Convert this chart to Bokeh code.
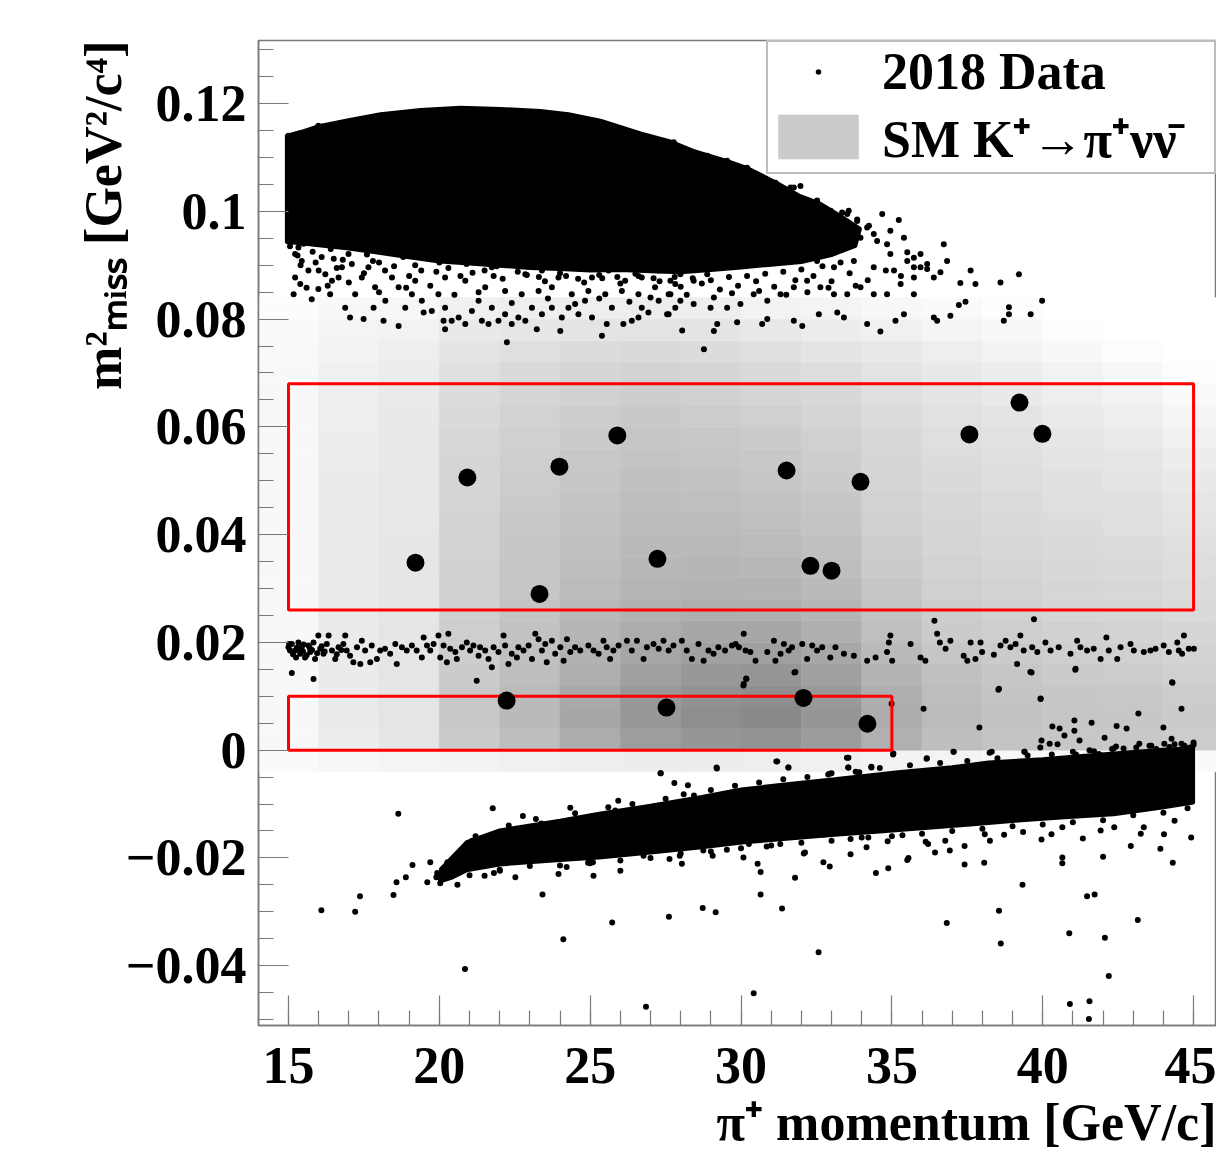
from bokeh.plotting import figure
from bokeh.models import FixedTicker, Legend, LegendItem, ColumnDataSource, LinearColorMapper, Title
from bokeh.embed import file_html
from bokeh.resources import INLINE

# ------------------------------------------------------------------ data
# SM K+ -> pi+ nu nubar expectation (2D histogram, relative density per bin)
sm_p_edges = [14, 16, 18, 20, 22, 24, 26, 28, 30, 32, 34, 36, 38, 40, 42, 44, 46]
sm_m2_edges = [-0.004, 0.0, 0.004, 0.008, 0.012, 0.016, 0.020, 0.024, 0.028, 0.032, 0.036,
               0.040, 0.044, 0.048, 0.052, 0.056, 0.060, 0.064, 0.068, 0.072, 0.076, 0.080, 0.084]
# one list per momentum bin, m2 bins from bottom to top
sm_density = [
    [4, 6, 6, 6, 6, 6, 6, 6, 6, 6, 6, 6, 6, 6, 6, 6, 6, 6, 6, 5, 4, 3],
    [7, 15, 16, 16, 16, 16, 16, 16, 16, 16, 16, 16, 16, 16, 15, 15, 14, 14, 12, 10, 9, 6],
    [8, 20, 21, 21, 21, 21, 21, 20, 20, 20, 20, 19, 19, 19, 19, 19, 18, 17, 15, 14, 10, 7],
    [10, 42, 44, 43, 42, 40, 39, 38, 38, 37, 36, 35, 34, 34, 33, 32, 30, 28, 26, 22, 18, 12],
    [12, 52, 55, 54, 52, 50, 49, 47, 46, 46, 45, 44, 42, 41, 39, 38, 36, 34, 30, 26, 20, 14],
    [14, 66, 70, 69, 65, 62, 58, 56, 54, 52, 50, 49, 47, 46, 44, 42, 40, 37, 33, 28, 22, 14],
    [15, 78, 82, 81, 76, 71, 66, 62, 59, 57, 55, 54, 52, 50, 48, 46, 43, 40, 35, 30, 23, 15],
    [15, 84, 90, 87, 82, 76, 70, 65, 61, 58, 56, 54, 51, 49, 46, 44, 41, 38, 34, 28, 22, 14],
    [14, 86, 94, 90, 84, 76, 70, 64, 60, 57, 54, 51, 49, 46, 44, 42, 38, 34, 30, 25, 18, 10],
    [12, 79, 84, 81, 76, 70, 64, 59, 55, 52, 50, 47, 45, 42, 40, 38, 34, 31, 27, 22, 15, 9],
    [10, 63, 66, 65, 60, 55, 51, 48, 45, 42, 40, 38, 36, 34, 33, 31, 29, 26, 23, 18, 12, 6],
    [9, 52, 54, 53, 50, 46, 42, 40, 38, 36, 34, 33, 31, 30, 28, 26, 24, 22, 18, 14, 8, 4],
    [7, 47, 49, 47, 45, 42, 39, 37, 35, 34, 32, 30, 29, 27, 26, 24, 22, 18, 15, 10, 6, 2],
    [6, 45, 46, 45, 42, 39, 37, 34, 33, 31, 30, 28, 26, 25, 22, 20, 17, 14, 10, 6, 2, 0],
    [6, 44, 45, 44, 41, 38, 35, 33, 31, 30, 28, 26, 25, 22, 20, 17, 14, 10, 6, 2, 0, 0],
    [4, 41, 42, 41, 38, 35, 33, 30, 29, 27, 26, 23, 21, 18, 15, 12, 8, 4, 2, 0, 0, 0],
]

# signal regions (momentum range, m2 range)
region_p_lo = [15, 15]
region_p_hi = [35, 45]
region_m2_lo = [0.0, 0.026]
region_m2_hi = [0.010, 0.068]

# 2018 candidate events
cand_p = [19.21, 20.93, 23.32, 23.98, 25.90, 27.23, 31.51, 32.30, 33.00, 33.96, 37.57, 39.23,
          39.99, 22.23, 27.53, 32.07, 34.19]
cand_m2 = [0.0348, 0.0506, 0.0290, 0.0526, 0.0584, 0.0355, 0.0519, 0.0342, 0.0333, 0.0498,
           0.0586, 0.0645, 0.0587, 0.0092, 0.0079, 0.0097, 0.0049]

# dense core of the upper population, outline
upper_core_p = [14.93, 15.40, 16.0, 16.99, 18.05, 19.38, 20.70, 22.03, 23.35, 24.28, 25.34,
                26.70, 27.69, 28.42, 29.55, 30.21, 31.21, 31.97, 32.63, 33.30, 33.96,
                33.80, 33.0, 32.0, 31.0, 30.0, 29.0, 28.0, 27.0, 26.0, 25.0, 24.0, 23.0,
                22.0, 21.0, 20.0, 19.0, 18.0, 17.0, 16.0, 15.4, 14.93]
upper_core_m2 = [0.1141, 0.1148, 0.1159, 0.1170, 0.1181, 0.1189, 0.1193, 0.1191, 0.1187, 0.1181,
                 0.1169, 0.1145, 0.1130, 0.1113, 0.1094, 0.1081, 0.1053, 0.1029, 0.1015, 0.0992,
                 0.0968, 0.0935, 0.0918, 0.0905, 0.0900, 0.0895, 0.0890, 0.0886, 0.0888,
                 0.0890, 0.0889, 0.0892, 0.0894, 0.0898, 0.0902, 0.0906, 0.0914, 0.0922,
                 0.0930, 0.0936, 0.0940, 0.0942]

# dense core of the lower population, outline
lower_core_p = [20.04, 20.90, 22.0, 24.0, 25.3, 27.0, 28.7, 30.0, 31.6, 33.1, 35.2, 37.0, 38.2,
                40.0, 41.3, 42.9, 43.9, 45.0,
                45.0, 43.9, 42.35, 40.6, 39.3, 37.6, 36.2, 34.6, 33.1, 31.6, 30.1, 28.7, 27.0,
                25.3, 24.0, 22.0, 20.9, 20.4, 20.0]
lower_core_m2 = [-0.0220, -0.0170, -0.0148, -0.0130, -0.0117, -0.0102, -0.0086, -0.0072, -0.0062,
                 -0.0053, -0.0040, -0.0031, -0.0022, -0.0016, -0.0010, -0.0003, 0.0001, 0.0005,
                 -0.0098, -0.0108, -0.0120, -0.0126, -0.0131, -0.0139, -0.0145, -0.0152, -0.0158,
                 -0.0165, -0.0172, -0.0181, -0.0191, -0.0200, -0.0205, -0.0213, -0.0224, -0.0238,
                 -0.0245]

# individual events around the upper population
upper_points = [
    (15.11, 0.0945), (15.33, 0.0933), (15.22, 0.0921), (15.44, 0.0908), (15.66, 0.0890),
    (15.22, 0.0877), (15.39, 0.0865), (15.17, 0.0846), (15.77, 0.0837), (15.99, 0.0856),
    (16.22, 0.0883), (16.44, 0.0871), (16.38, 0.0846), (16.66, 0.0877), (16.77, 0.0896),
    (16.99, 0.0921), (16.88, 0.0821), (17.04, 0.0803), (17.49, 0.0800), (17.21, 0.0846),
    (17.43, 0.0877), (17.65, 0.0896), (17.87, 0.0859), (17.82, 0.0821), (18.15, 0.0797),
    (18.21, 0.0834), (18.43, 0.0877), (18.65, 0.0859), (18.65, 0.0787), (18.87, 0.0821),
    (19.09, 0.0846), (19.20, 0.0871), (19.42, 0.0834), (19.48, 0.0812), (19.75, 0.0815),
    (19.97, 0.0846), (20.19, 0.0781), (20.14, 0.0797), (20.19, 0.0821), (20.41, 0.0797),
    (20.64, 0.0803), (20.86, 0.0791), (21.08, 0.0815), (21.30, 0.0834), (21.41, 0.0797),
    (21.63, 0.0791), (21.74, 0.0821), (21.96, 0.0797), (22.24, 0.0757), (22.18, 0.0809),
    (22.40, 0.0791), (22.62, 0.0803), (22.85, 0.0797), (23.07, 0.0821), (23.23, 0.0781),
    (23.40, 0.0809), (23.73, 0.0821), (24.01, 0.0778), (24.06, 0.0803), (24.28, 0.0821),
    (24.61, 0.0809), (24.83, 0.0834), (25.06, 0.0803), (25.39, 0.0769), (25.55, 0.0791),
    (25.72, 0.0821), (26.10, 0.0791), (26.38, 0.0797), (26.60, 0.0803), (26.71, 0.0821),
    (26.93, 0.0812), (27.27, 0.0834), (27.60, 0.0809), (27.82, 0.0821),
    (20.64, 0.0921), (21.19, 0.0908), (21.74, 0.0896), (22.29, 0.0902), (22.85, 0.0883),
    (23.40, 0.0890), (23.95, 0.0877), (24.50, 0.0902), (25.06, 0.0877), (25.61, 0.0890),
    (26.16, 0.0871), (26.71, 0.0877), (27.27, 0.0890), (27.82, 0.0865), (20.19, 0.0877),
    (20.86, 0.0871), (21.52, 0.0859), (22.18, 0.0852), (22.73, 0.0846), (23.29, 0.0852),
    (23.73, 0.0859), (24.39, 0.0846), (24.94, 0.0852), (25.50, 0.0846), (26.05, 0.0852),
    (26.60, 0.0846), (27.15, 0.0859), (27.60, 0.0846),
    (15.05, 0.0935), (15.25, 0.0950), (15.50, 0.0940), (15.80, 0.0925), (16.10, 0.0915),
    (16.40, 0.0930), (16.80, 0.0910), (17.20, 0.0935), (17.60, 0.0920), (18.00, 0.0905),
    (18.40, 0.0930), (18.80, 0.0915), (19.20, 0.0900), (19.60, 0.0915), (20.00, 0.0905),
    (20.40, 0.0918), (20.90, 0.0902), (21.30, 0.0912), (21.90, 0.0898), (22.50, 0.0910),
    (23.10, 0.0900), (23.70, 0.0908), (24.40, 0.0895), (25.00, 0.0905), (25.70, 0.0898),
    (26.30, 0.0903), (27.00, 0.0893), (27.50, 0.0898), (15.40, 0.0900), (16.00, 0.0890),
    (16.60, 0.0895), (17.50, 0.0885), (18.20, 0.0890), (19.00, 0.0880), (19.90, 0.0888),
    (20.70, 0.0880), (21.50, 0.0890), (22.10, 0.0875), (22.90, 0.0882), (23.50, 0.0870),
    (24.20, 0.0880), (24.80, 0.0868), (25.40, 0.0876), (26.00, 0.0866), (26.60, 0.0880),
    (27.30, 0.0870), (28.00, 0.0860), (28.70, 0.0866), (29.30, 0.0855), (29.90, 0.0862),
    (30.50, 0.0870), (31.10, 0.0860), (31.80, 0.0872), (32.40, 0.0880), (33.00, 0.0870),
    (33.60, 0.0885), (34.20, 0.0872), (34.80, 0.0890), (35.30, 0.0880),
    (15.30, 0.0918), (15.90, 0.0905), (16.50, 0.0912), (17.10, 0.0902), (17.80, 0.0908),
    (18.50, 0.0898), (19.40, 0.0890), (20.30, 0.0895), (21.10, 0.0886), (21.80, 0.0880),
    (22.60, 0.0888), (23.30, 0.0878), (24.00, 0.0885), (24.60, 0.0875), (25.30, 0.0882),
    (25.90, 0.0878), (26.50, 0.0884), (27.10, 0.0876), (27.80, 0.0878), (28.40, 0.0876),
    (29.00, 0.0872), (29.60, 0.0878), (30.20, 0.0880), (30.80, 0.0884), (31.40, 0.0888),
    (32.00, 0.0892), (32.70, 0.0898), (33.30, 0.0905), (15.60, 0.0858), (16.30, 0.0862),
    (17.00, 0.0868), (18.00, 0.0850), (18.90, 0.0858), (19.70, 0.0862), (20.50, 0.0845),
    (21.30, 0.0850), (22.40, 0.0830), (23.60, 0.0838), (24.50, 0.0828), (25.30, 0.0838),
    (26.30, 0.0832), (27.00, 0.0840), (28.20, 0.0845), (29.10, 0.0840), (29.70, 0.0848),
    (30.60, 0.0852), (31.50, 0.0845), (32.20, 0.0850), (32.90, 0.0858), (33.80, 0.0862),
    (27.55, 0.0809), (28.05, 0.0779), (28.77, 0.0744), (29.10, 0.0778), (29.21, 0.0791),
    (29.87, 0.0794), (30.70, 0.0791), (30.87, 0.0800), (31.75, 0.0797), (32.03, 0.0787),
    (32.58, 0.0809), (33.19, 0.0812), (33.41, 0.0803), (34.18, 0.0791), (34.62, 0.0777),
    (35.12, 0.0797), (35.40, 0.0809), (35.73, 0.0846), (36.39, 0.0803), (36.50, 0.0797),
    (36.94, 0.0806), (37.22, 0.0826), (37.44, 0.0832), (37.27, 0.0867), (37.77, 0.0865),
    (37.61, 0.0890), (36.83, 0.0908), (36.72, 0.0939), (38.60, 0.0868), (39.21, 0.0883),
    (38.88, 0.0822), (38.88, 0.0809), (38.71, 0.0797), (39.60, 0.0809), (39.98, 0.0834),
    (34.68, 0.0995), (35.23, 0.0984), (35.40, 0.0951), (36.61, 0.0887), (35.95, 0.0921),
    (36.17, 0.0902), (35.73, 0.0877), (35.29, 0.0865), (34.84, 0.0846), (34.40, 0.0846),
    (33.96, 0.0859), (33.52, 0.0846), (33.08, 0.0846), (32.63, 0.0859), (32.19, 0.0871),
    (31.75, 0.0859), (31.31, 0.0846), (30.87, 0.0834), (30.42, 0.0846), (29.98, 0.0828),
    (29.54, 0.0821), (28.99, 0.0821), (28.43, 0.0828), (27.99, 0.0834), (27.66, 0.0846),
    (34.18, 0.0970), (33.85, 0.0982), (33.52, 0.0995), (33.30, 0.0964), (32.85, 0.0982),
    (32.41, 0.1007), (31.97, 0.1020), (31.53, 0.1032), (31.75, 0.1044), (33.96, 0.0951),
    (34.51, 0.0945), (34.95, 0.0921), (35.51, 0.0908), (35.07, 0.0890), (34.40, 0.0896),
    (33.74, 0.0908), (33.08, 0.0896), (32.52, 0.0908), (32.08, 0.0921), (31.53, 0.0933),
    (31.09, 0.0945), (30.65, 0.0933), (30.20, 0.0921), (29.76, 0.0908), (29.32, 0.0896),
    (28.88, 0.0883), (28.43, 0.0871), (27.99, 0.0883), (27.66, 0.0871),
    (27.77, 0.1128), (28.43, 0.1109), (28.88, 0.1103), (29.54, 0.1094), (30.20, 0.1081),
    (30.53, 0.1066), (31.14, 0.1053), (31.64, 0.1044), (31.97, 0.1047), (32.52, 0.1020),
    (32.97, 0.1001), (33.35, 0.0998), (33.57, 0.1001), (33.85, 0.0985), (34.24, 0.0973),
    (34.95, 0.0964), (34.40, 0.0958), (34.84, 0.0939), (35.51, 0.0924), (35.73, 0.0914),
    (35.95, 0.0896), (36.17, 0.0893), (36.39, 0.0877), (35.73, 0.0896), (15.99, 0.1159),
    (15.00, 0.1140),
]

# individual events of the K+ -> pi+ pi0 band
band_points = [
    (15.00, 0.0191), (15.11, 0.0197), (15.22, 0.0185), (15.33, 0.0200), (15.39, 0.0179),
    (15.44, 0.0191), (15.55, 0.0172), (15.66, 0.0194), (15.72, 0.0182), (15.83, 0.0200),
    (15.88, 0.0169), (15.99, 0.0213), (16.05, 0.0188), (16.16, 0.0179), (16.27, 0.0197),
    (16.33, 0.0213), (16.44, 0.0185), (16.55, 0.0169), (16.66, 0.0191), (16.82, 0.0197),
    (16.88, 0.0213), (16.93, 0.0185), (17.04, 0.0175), (17.15, 0.0163), (17.27, 0.0191),
    (17.38, 0.0160), (17.43, 0.0203), (17.54, 0.0185), (17.71, 0.0163), (17.76, 0.0194),
    (17.93, 0.0169), (18.04, 0.0185), (18.20, 0.0188), (18.37, 0.0179), (18.54, 0.0197),
    (18.59, 0.0160), (18.76, 0.0191), (18.92, 0.0185), (19.09, 0.0194), (19.25, 0.0185),
    (19.42, 0.0172), (19.48, 0.0209), (19.59, 0.0194), (19.70, 0.0185), (19.81, 0.0197),
    (19.97, 0.0213), (20.03, 0.0172), (20.14, 0.0194), (20.25, 0.0163), (20.30, 0.0216),
    (20.36, 0.0188), (20.53, 0.0182), (20.58, 0.0169), (20.75, 0.0191), (20.91, 0.0200),
    (21.02, 0.0185), (21.13, 0.0194), (21.24, 0.0129), (21.30, 0.0175), (21.35, 0.0191),
    (21.52, 0.0185), (21.63, 0.0169), (21.74, 0.0154), (21.80, 0.0191), (21.96, 0.0182),
    (22.13, 0.0213), (22.18, 0.0194), (22.29, 0.0160), (22.40, 0.0179), (22.57, 0.0172),
    (22.62, 0.0191), (22.79, 0.0185), (22.96, 0.0194), (23.07, 0.0169), (23.18, 0.0216),
    (23.29, 0.0206), (23.40, 0.0185), (23.51, 0.0197), (23.56, 0.0163), (23.73, 0.0203),
    (23.84, 0.0179), (24.01, 0.0191), (24.12, 0.0166), (24.23, 0.0206), (24.34, 0.0182),
    (24.50, 0.0191), (24.67, 0.0185), (24.94, 0.0194), (25.11, 0.0185), (25.28, 0.0179),
    (25.44, 0.0203), (25.55, 0.0191), (25.66, 0.0169), (25.77, 0.0185), (25.94, 0.0194),
    (26.22, 0.0203), (26.38, 0.0185), (26.55, 0.0203), (26.77, 0.0169), (26.88, 0.0191),
    (27.10, 0.0197), (27.27, 0.0188), (27.43, 0.0203), (27.60, 0.0185), (27.76, 0.0194),
    (28.04, 0.0203), (28.20, 0.0185), (28.37, 0.0169), (28.59, 0.0197), (28.76, 0.0166),
    (28.92, 0.0185), (29.09, 0.0179), (29.25, 0.0191), (29.47, 0.0185), (29.70, 0.0194),
    (15.11, 0.0143), (15.83, 0.0132),
    (15.05, 0.0185), (15.15, 0.0178), (15.28, 0.0190), (15.35, 0.0186), (15.48, 0.0183),
    (15.60, 0.0176), (15.70, 0.0190), (15.78, 0.0186), (15.95, 0.0180), (16.10, 0.0193),
    (15.02, 0.0197), (15.25, 0.0172), (15.50, 0.0196), (16.20, 0.0183), (16.60, 0.0178),
    (16.75, 0.0186),
    (29.82, 0.0197), (29.93, 0.0191), (30.09, 0.0216), (30.15, 0.0185), (30.31, 0.0182),
    (30.48, 0.0166), (30.87, 0.0182), (31.09, 0.0203), (31.14, 0.0166), (31.31, 0.0179),
    (31.42, 0.0197), (31.58, 0.0185), (31.69, 0.0191), (31.80, 0.0145), (32.03, 0.0197),
    (32.19, 0.0169), (32.36, 0.0194), (32.52, 0.0185), (32.69, 0.0191), (32.96, 0.0172),
    (33.13, 0.0191), (33.41, 0.0179), (33.74, 0.0175), (34.18, 0.0166), (34.46, 0.0172),
    (34.84, 0.0182), (34.90, 0.0200), (34.95, 0.0213), (35.01, 0.0166), (35.62, 0.0197),
    (35.95, 0.0172), (36.11, 0.0166), (36.41, 0.0240), (36.50, 0.0216), (36.59, 0.0200),
    (36.78, 0.0188), (36.94, 0.0203), (37.38, 0.0175), (37.50, 0.0166), (37.61, 0.0200),
    (37.77, 0.0169), (37.94, 0.0200), (37.99, 0.0182), (38.38, 0.0177), (38.55, 0.0114),
    (38.60, 0.0194), (38.77, 0.0203), (38.93, 0.0191), (39.10, 0.0197), (39.15, 0.0160),
    (39.26, 0.0213), (39.37, 0.0185), (39.59, 0.0145), (39.65, 0.0191), (39.71, 0.0243),
    (39.82, 0.0182), (39.93, 0.0095), (40.09, 0.0200), (40.26, 0.0185), (40.53, 0.0191),
    (40.92, 0.0179), (41.09, 0.0151), (41.14, 0.0203), (41.25, 0.0191), (41.47, 0.0185),
    (41.69, 0.0188), (41.92, 0.0169), (42.11, 0.0209), (42.19, 0.0185), (42.47, 0.0169),
    (42.58, 0.0191), (42.91, 0.0197), (43.02, 0.0185), (43.35, 0.0182), (43.57, 0.0185),
    (43.74, 0.0188), (44.01, 0.0194), (44.18, 0.0182), (44.29, 0.0126), (44.46, 0.0200),
    (44.51, 0.0185), (44.62, 0.0179), (44.68, 0.0213), (44.84, 0.0188), (45.01, 0.0188),
    (30.09, 0.0123), (30.18, 0.0132),
]

# individual events around the lower population and elsewhere
lower_points = [
    (16.09, -0.0297), (17.21, -0.0300), (17.37, -0.0271), (18.48, -0.0269), (18.64, -0.0118),
    (18.58, -0.0245), (18.89, -0.0236), (19.11, -0.0213), (19.70, -0.0208), (19.93, -0.0228),
    (20.03, -0.0247), (20.27, -0.0208), (20.85, -0.0406), (21.09, -0.0168), (21.77, -0.0108),
    (21.81, -0.0228), (22.01, -0.0224), (22.77, -0.0122), (23.42, -0.0268), (23.38, -0.0136),
    (24.11, -0.0351), (24.22, -0.0217), (24.34, -0.0107), (24.93, -0.0209), (25.11, -0.0233),
    (25.73, -0.0320), (25.93, -0.0094), (25.83, -0.0112), (26.85, -0.0476), (27.34, -0.0043),
    (27.61, -0.0309), (27.63, -0.0202), (27.79, -0.0061), (28.24, -0.0065), (28.44, -0.0084),
    (28.73, -0.0293), (29.16, -0.0301), (29.20, -0.0034), (30.42, -0.0451), (30.55, -0.0211),
    (30.65, -0.0226), (30.65, -0.0268), (31.20, -0.0021), (31.36, -0.0294), (31.57, -0.0032),
    (31.79, -0.0237), (32.08, -0.0192), (32.57, -0.0375), (32.73, -0.0208), (32.94, -0.0216),
    (32.89, -0.0045), (33.51, -0.0014), (33.55, -0.0032), (33.63, -0.0193), (33.92, -0.0041),
    (34.32, -0.0031), (34.47, -0.0228), (34.88, -0.0219), (35.04, -0.0008), (35.55, -0.0200),
    (36.16, -0.0015), (36.43, -0.0190), (36.82, -0.0321), (36.92, -0.0186), (37.04, -0.0003),
    (37.41, -0.0212), (38.06, -0.0209), (38.31, -0.0003), (38.55, -0.0298), (38.61, -0.0359),
    (39.33, -0.0250), (40.65, -0.0199), (40.65, -0.0210), (40.88, -0.0340), (40.90, -0.0471),
    (41.47, -0.0271), (41.53, -0.0499), (41.55, -0.0466), (41.72, -0.0268), (42.00, -0.0198),
    (42.06, -0.0348), (42.19, -0.0419), (42.92, -0.0178), (43.15, -0.0315), (43.90, -0.0183),
    (44.31, -0.0209), (44.92, -0.0162),
    (44.02, -0.0156), (43.25, -0.0155), (42.37, -0.0143), (41.33, -0.0164), (40.65, -0.0143),
    (39.96, -0.0166), (39.35, -0.0152), (38.72, -0.0157), (38.08, -0.0156), (37.41, -0.0178),
    (36.77, -0.0168), (36.12, -0.0170), (35.51, -0.0204), (35.35, -0.0158), (34.86, -0.0169),
    (34.22, -0.0162), (33.63, -0.0165), (32.73, -0.0157), (32.06, -0.0157), (31.30, -0.0174),
    (30.85, -0.0179), (30.26, -0.0174), (29.53, -0.0185), (29.06, -0.0196), (28.75, -0.0186),
    (27.97, -0.0196), (27.63, -0.0168), (26.77, -0.0196), (25.85, -0.0193), (25.09, -0.0208),
    (39.39, -0.0003), (39.92, 0.0005), (40.49, 0.0011), (41.10, -0.0008), (41.86, -0.0007),
    (42.43, 0.0007), (43.76, 0.0002), (44.37, 0.0011), (44.88, 0.0005),
    (34.16, -0.0063), (35.39, -0.0050), (36.41, -0.0038), (37.22, -0.0044), (38.25, -0.0032),
    (39.06, -0.0026), (39.88, -0.0023), (40.90, -0.0019), (41.92, -0.0010), (42.94, -0.0013),
    (43.76, -0.0007), (32.53, -0.0069), (31.10, -0.0081), (29.67, -0.0091), (28.44, -0.0100),
    (27.22, -0.0109), (26.00, -0.0115), (24.77, -0.0131), (23.54, -0.0146), (22.52, -0.0162),
    (21.50, -0.0174), (20.68, -0.0193),
    (44.37, -0.0131), (43.35, -0.0143), (41.92, -0.0149), (40.29, -0.0156), (38.25, -0.0168),
    (36.20, -0.0174), (34.16, -0.0180), (32.12, -0.0190), (30.08, -0.0199), (28.04, -0.0211),
    (26.00, -0.0224), (23.95, -0.0230), (22.52, -0.0236), (21.50, -0.0233),
    (21.2, -0.0160), (22.3, -0.0140), (23.2, -0.0128), (24.5, -0.0117), (25.6, -0.0106),
    (26.4, -0.0100), (27.5, -0.0090), (28.1, -0.0082), (29.0, -0.0074), (29.8, -0.0066),
    (30.6, -0.0060), (31.4, -0.0054), (32.2, -0.0050), (33.0, -0.0043), (33.8, -0.0040),
    (34.6, -0.0033), (35.6, -0.0028), (36.6, -0.0024), (37.5, -0.0020), (38.5, -0.0015),
    (39.5, -0.0010), (40.3, -0.0008), (41.0, -0.0003), (41.7, -0.0002), (42.3, 0.0002),
    (43.1, 0.0005), (43.6, 0.0008), (44.2, 0.0006), (44.6, 0.0012), (45.0, 0.0010),
    (21.0, -0.0232), (22.0, -0.0222), (23.0, -0.0215), (24.0, -0.0214), (25.0, -0.0210),
    (26.0, -0.0205), (27.0, -0.0200), (28.0, -0.0192), (29.0, -0.0188), (30.0, -0.0182),
    (31.0, -0.0177), (32.0, -0.0172), (33.0, -0.0168), (34.0, -0.0162), (35.0, -0.0160),
    (36.0, -0.0155), (37.0, -0.0150), (38.0, -0.0146), (39.0, -0.0141), (40.0, -0.0138),
    (41.0, -0.0134), (42.0, -0.0130), (43.0, -0.0121), (44.0, -0.0116), (44.8, -0.0108),
    (20.3, -0.0218), (19.9, -0.0236), (20.6, -0.0250), (19.6, -0.0245), (20.2, -0.0230),
    (34.99, 0.0086), (36.05, 0.0077), (37.90, 0.0042), (38.53, 0.0112), (39.93, 0.0096),
    (41.05, 0.0055), (43.17, 0.0068), (44.30, 0.0125), (44.60, 0.0077), (41.62, 0.0051),
    (42.05, 0.0023), (42.45, 0.0045), (42.78, 0.0040), (44.00, 0.0042), (40.72, 0.0027),
    (41.05, 0.0036), (41.22, 0.0018), (40.32, 0.0044), (40.56, 0.0040), (39.96, 0.0018),
    (40.23, 0.0012), (44.27, 0.0021), (44.03, 0.0012), (44.70, 0.0008), (45.00, 0.0014),
    (43.54, 0.0008), (43.20, 0.0012), (42.68, 0.0003), (42.35, 0.0003), (41.55, 0.0000),
    (30.08, 0.0120), (30.17, 0.0133), (31.77, 0.0144), (39.63, 0.0144), (41.08, 0.0149),
    (35.05, -0.0006), (36.15, -0.0016), (37.05, -0.0003), (38.24, -0.0005), (39.40, -0.0003),
    (31.17, -0.0021), (31.57, -0.0032), (33.56, -0.0014), (33.56, -0.0032), (34.32, -0.0032),
    (32.93, -0.0044), (33.90, -0.0042), (27.33, -0.0043), (29.19, -0.0032),
]

x_major = [15, 20, 25, 30, 35, 40, 45]
y_major = [-0.04, -0.02, 0.0, 0.02, 0.04, 0.06, 0.08, 0.1, 0.12]
y_labels = {-0.04: "\u22120.04", -0.02: "\u22120.02", 0.0: "0", 0.02: "0.02", 0.04: "0.04",
            0.06: "0.06", 0.08: "0.08", 0.1: "0.1", 0.12: "0.12"}
x_title = "\u03c0\u207a momentum [GeV/c]"
y_title = "m\u00b2\u2098\u1d62\u209b\u209b [GeV\u00b2/c\u2074]"

# ------------------------------------------------------------------ figure
FONT = "Liberation Serif"
GREY = "#7a7a7a"

p = figure(frame_width=958, frame_height=985, x_range=(14.006, 45.76), y_range=(-0.0511, 0.1317),
           output_backend="svg", toolbar_location=None,
           min_border_left=258, min_border_right=0, min_border_top=40, min_border_bottom=118)
p.xgrid.visible = False
p.ygrid.visible = False
p.outline_line_color = GREY
p.outline_line_width = 1.5
p.background_fill_color = "white"
p.border_fill_color = "white"

# SM histogram
hl, hr, hb, ht, hd = [], [], [], [], []
for i, col in enumerate(sm_density):
    for j, d in enumerate(col):
        hl.append(sm_p_edges[i]); hr.append(sm_p_edges[i + 1])
        hb.append(sm_m2_edges[j]); ht.append(sm_m2_edges[j + 1]); hd.append(d)
greys = ["#%02x%02x%02x" % (v, v, v) for v in range(255, 129, -1)]
mapper = LinearColorMapper(palette=greys, low=0, high=100)
hsrc = ColumnDataSource(dict(left=hl, right=hr, bottom=hb, top=ht, d=hd))
hist_r = p.quad(left="left", right="right", bottom="bottom", top="top", source=hsrc,
                fill_color={"field": "d", "transform": mapper},
                line_color={"field": "d", "transform": mapper}, line_width=0.6)

# data populations
p.patch(upper_core_p, upper_core_m2, fill_color="black", line_color="black", line_width=3)
p.patch(lower_core_p, lower_core_m2, fill_color="black", line_color="black", line_width=3)
all_pts = upper_points + band_points + lower_points
p.scatter([a for a, b in all_pts], [b for a, b in all_pts], size=6,
          fill_color="black", line_color=None)
# representative marker for the legend (sits on top of an existing event)
dot_r = p.scatter([all_pts[0][0]], [all_pts[0][1]], marker="dot", size=8,
                  fill_color="black", line_color="black")

# signal regions
p.quad(left=region_p_lo, right=region_p_hi, bottom=region_m2_lo, top=region_m2_hi,
       fill_color=None, line_color="#ff0000", line_width=3)

# candidates
p.scatter(cand_p, cand_m2, size=18, fill_color="black", line_color=None)

# axes
for ax in (p.xaxis[0], p.yaxis[0]):
    ax.axis_line_color = GREY
    ax.axis_line_width = 1.5
    ax.major_tick_line_color = GREY
    ax.minor_tick_line_color = GREY
    ax.major_tick_line_width = 1.2
    ax.minor_tick_line_width = 1.2
    ax.major_tick_in = 30
    ax.major_tick_out = 0
    ax.minor_tick_in = 15
    ax.minor_tick_out = 0
    ax.major_label_text_font = FONT
    ax.major_label_text_font_style = "bold"
    ax.major_label_text_font_size = "52px"
    ax.major_label_text_color = "black"

p.xaxis.ticker = FixedTicker(ticks=x_major, minor_ticks=list(range(14, 46)))
p.yaxis.ticker = FixedTicker(ticks=y_major,
                             minor_ticks=[round(-0.05 + 0.005 * k, 3) for k in range(37)])
p.yaxis.major_label_overrides = y_labels
p.xaxis.major_label_standoff = 22
p.yaxis.major_label_standoff = 12

# axis titles, right/top aligned as in ROOT
p.add_layout(Title(text=x_title, align="right", standoff=12, text_font=FONT,
                   text_font_style="bold", text_font_size="52px", text_color="black"), "below")
p.add_layout(Title(text=y_title, align="right", standoff=-18, text_font=FONT,
                   text_font_style="bold", text_font_size="52px", text_color="black"), "left")

legend = Legend(items=[LegendItem(label="2018 Data", renderers=[dot_r]),
                       LegendItem(label="SM K\u207a\u2192\u03c0\u207a\u03bd\u03bd\u0304",
                                  renderers=[hist_r], index=70)],
                location="top_right", margin=0, padding=0, spacing=0,
                glyph_width=100, glyph_height=55, label_standoff=14, label_width=332,
                label_text_font=FONT, label_text_font_style="bold",
                label_text_font_size="52px", label_text_color="black",
                border_line_color=GREY, border_line_width=2,
                background_fill_color="white", background_fill_alpha=1.0)
p.add_layout(legend)

open("out.html", "w").write(file_html(p, INLINE))
